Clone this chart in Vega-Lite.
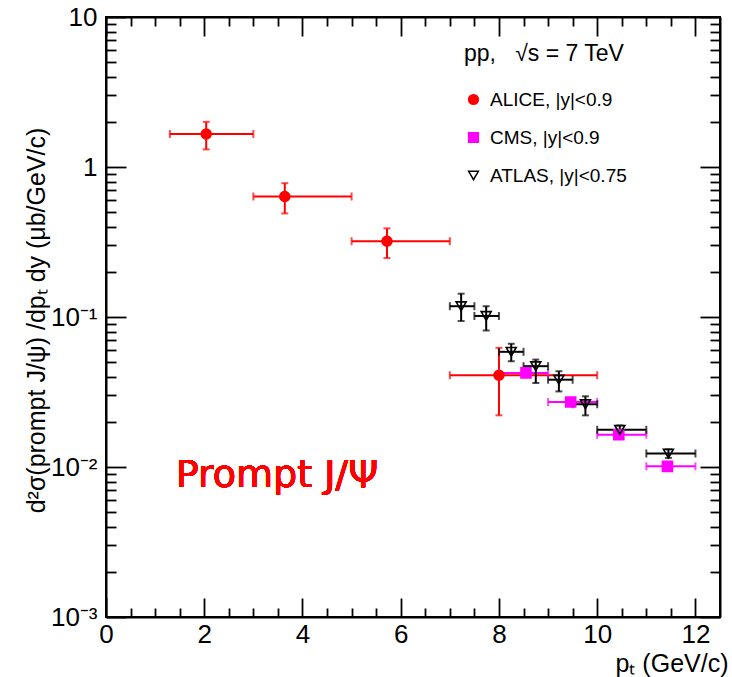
{
  "$schema": "https://vega.github.io/schema/vega-lite/v6.json",
  "width": 614,
  "height": 600,
  "autosize": {"type": "none"},
  "padding": {"left": 106, "top": 17, "right": 12, "bottom": 60},
  "background": "white",
  "config": {
    "view": {"stroke": "black", "strokeWidth": 2},
    "font": "Liberation Sans, Arial, sans-serif",
    "axis": {
      "domainColor": "black", "domainWidth": 2, "tickColor": "black", "tickWidth": 1.8,
      "labelColor": "black", "titleColor": "black", "grid": false,
      "labelFont": "Liberation Sans, Arial, sans-serif",
      "titleFont": "Liberation Sans, Arial, sans-serif",
      "labelFontSize": 26, "titleFontSize": 25, "titleFontWeight": "normal",
      "labelOverlap": false, "labelFlush": false, "labelBound": false
    }
  },
  "data": {
    "values": [
      {"exp": "ALICE", "pt": 2.04, "xlo": 1.3, "xhi": 3.0, "y": 1.66, "ylo": 1.31, "yhi": 2.0},
      {"exp": "ALICE", "pt": 3.64, "xlo": 3.0, "xhi": 5.0, "y": 0.636, "ylo": 0.49, "yhi": 0.78},
      {"exp": "ALICE", "pt": 5.72, "xlo": 5.0, "xhi": 7.0, "y": 0.32, "ylo": 0.247, "yhi": 0.39},
      {"exp": "ALICE", "pt": 8.0, "xlo": 7.0, "xhi": 10.0, "y": 0.0409, "ylo": 0.0221, "yhi": 0.0623},
      {"exp": "CMS", "pt": 8.55, "xlo": 8.0, "xhi": 9.0, "y": 0.0424, "ylo": 0.0405, "yhi": 0.0445},
      {"exp": "CMS", "pt": 9.46, "xlo": 9.0, "xhi": 10.0, "y": 0.0271, "ylo": 0.0258, "yhi": 0.0285},
      {"exp": "CMS", "pt": 10.44, "xlo": 10.0, "xhi": 11.0, "y": 0.0164, "ylo": 0.0156, "yhi": 0.0172},
      {"exp": "CMS", "pt": 11.43, "xlo": 11.0, "xhi": 12.0, "y": 0.0101, "ylo": 0.0096, "yhi": 0.0106},
      {"exp": "ATLAS", "pt": 7.23, "xlo": 7.0, "xhi": 7.5, "y": 0.118, "ylo": 0.094, "yhi": 0.143},
      {"exp": "ATLAS", "pt": 7.74, "xlo": 7.5, "xhi": 8.0, "y": 0.1016, "ylo": 0.0813, "yhi": 0.118},
      {"exp": "ATLAS", "pt": 8.25, "xlo": 8.0, "xhi": 8.5, "y": 0.0586, "ylo": 0.0507, "yhi": 0.0663},
      {"exp": "ATLAS", "pt": 8.75, "xlo": 8.5, "xhi": 9.0, "y": 0.047, "ylo": 0.0363, "yhi": 0.052},
      {"exp": "ATLAS", "pt": 9.22, "xlo": 9.0, "xhi": 9.5, "y": 0.0382, "ylo": 0.0319, "yhi": 0.0435},
      {"exp": "ATLAS", "pt": 9.76, "xlo": 9.5, "xhi": 10.0, "y": 0.0262, "ylo": 0.0221, "yhi": 0.0296},
      {"exp": "ATLAS", "pt": 10.46, "xlo": 10.0, "xhi": 11.0, "y": 0.0177, "ylo": 0.0166, "yhi": 0.0189},
      {"exp": "ATLAS", "pt": 11.45, "xlo": 11.0, "xhi": 12.0, "y": 0.0123, "ylo": 0.0115, "yhi": 0.0131}
    ]
  },
  "resolve": {"axis": {"x": "independent", "y": "independent"}},
  "layer": [
    {
      "mark": {"type": "rule", "strokeWidth": 2},
      "encoding": {
        "x": {"field": "xlo", "type": "quantitative",
          "scale": {"domain": [0, 12.5], "nice": false, "zero": false},
          "axis": {
            "orient": "bottom",
            "values": [0,0.5,1,1.5,2,2.5,3,3.5,4,4.5,5,5.5,6,6.5,7,7.5,8,8.5,9,9.5,10,10.5,11,11.5,12],
            "labelExpr": "datum.value % 2 == 0 ? format(datum.value, 'd') : ''",
            "tickSize": {"condition": {"test": "datum.value % 2 == 0", "value": -19}, "value": -9},
            "labelPadding": 23, "labelFontSize": 26,
            "title": "pₜ (GeV/c)", "titleFontSize": 25, "titleFontWeight": "normal",
            "titleAnchor": "end", "titleAlign": "right", "titleX": 622, "titleY": 54, "titleBaseline": "alphabetic"
          }},
        "x2": {"field": "xhi"},
        "y": {"field": "y", "type": "quantitative",
          "scale": {"type": "log", "domain": [0.001, 10], "nice": false},
          "axis": {
            "orient": "left",
            "values": [0.001,0.002,0.003,0.004,0.005,0.006,0.007,0.008,0.009,0.01,0.02,0.03,0.04,0.05,0.06,0.07,0.08,0.09,0.1,0.2,0.3,0.4,0.5,0.6,0.7,0.8,0.9,1,2,3,4,5,6,7,8,9,10],
            "labelExpr": "datum.value == 10 ? '10' : datum.value == 1 ? '1' : datum.value == 0.1 ? '10⁻¹' : datum.value == 0.01 ? '10⁻²' : datum.value == 0.001 ? '10⁻³' : ''",
            "tickSize": {"condition": {"test": "indexof([0.001,0.01,0.1,1,10], datum.value) >= 0", "value": -20}, "value": -10},
            "labelPadding": 29, "labelFontSize": 26,
            "title": "d²σ(prompt J/ψ) /dpₜ dy (μb/GeV/c)", "titleFontSize": 25, "titleFontWeight": "normal",
            "titleX": -70, "titleY": 303, "titleAngle": -90, "titleAlign": "center", "titleBaseline": "middle"
          }},
        "color": {"field": "exp", "type": "nominal", "legend": null,
          "scale": {"range": ["#ff0000", "#000000", "#ff00ff"]}}
      }
    },
    {
      "mark": {"type": "rule", "strokeWidth": 2},
      "encoding": {
        "x": {"field": "pt", "type": "quantitative",
          "axis": {
            "orient": "top",
            "values": [0,0.5,1,1.5,2,2.5,3,3.5,4,4.5,5,5.5,6,6.5,7,7.5,8,8.5,9,9.5,10,10.5,11,11.5,12],
            "labels": false, "title": null,
            "tickSize": {"condition": {"test": "datum.value % 2 == 0", "value": -19}, "value": -9}
          }},
        "y": {"field": "ylo", "type": "quantitative",
          "axis": {
            "orient": "right",
            "values": [0.001,0.002,0.003,0.004,0.005,0.006,0.007,0.008,0.009,0.01,0.02,0.03,0.04,0.05,0.06,0.07,0.08,0.09,0.1,0.2,0.3,0.4,0.5,0.6,0.7,0.8,0.9,1,2,3,4,5,6,7,8,9,10],
            "labels": false, "title": null,
            "tickSize": {"condition": {"test": "indexof([0.001,0.01,0.1,1,10], datum.value) >= 0", "value": -20}, "value": -10}
          }},
        "y2": {"field": "yhi"},
        "color": {"field": "exp", "type": "nominal", "legend": null}
      }
    },
    {
      "mark": {"type": "tick", "orient": "vertical", "size": 8, "thickness": 2},
      "encoding": {
        "x": {"field": "xlo", "type": "quantitative", "axis": null},
        "y": {"field": "y", "type": "quantitative", "axis": null},
        "color": {"field": "exp", "type": "nominal", "legend": null}
      }
    },
    {
      "mark": {"type": "tick", "orient": "vertical", "size": 8, "thickness": 2},
      "encoding": {
        "x": {"field": "xhi", "type": "quantitative", "axis": null},
        "y": {"field": "y", "type": "quantitative", "axis": null},
        "color": {"field": "exp", "type": "nominal", "legend": null}
      }
    },
    {
      "mark": {"type": "tick", "orient": "horizontal", "size": 7, "thickness": 2},
      "encoding": {
        "x": {"field": "pt", "type": "quantitative", "axis": null},
        "y": {"field": "ylo", "type": "quantitative", "axis": null},
        "color": {"field": "exp", "type": "nominal", "legend": null}
      }
    },
    {
      "mark": {"type": "tick", "orient": "horizontal", "size": 7, "thickness": 2},
      "encoding": {
        "x": {"field": "pt", "type": "quantitative", "axis": null},
        "y": {"field": "yhi", "type": "quantitative", "axis": null},
        "color": {"field": "exp", "type": "nominal", "legend": null}
      }
    },
    {
      "mark": {"type": "point", "size": 100, "strokeWidth": 1.6, "opacity": 1},
      "encoding": {
        "x": {"field": "pt", "type": "quantitative", "axis": null},
        "y": {"field": "y", "type": "quantitative", "axis": null},
        "shape": {"field": "exp", "type": "nominal",
          "scale": {"domain": ["ALICE", "CMS", "ATLAS"], "range": ["circle", "square", "triangle-down"]},
          "legend": {"title": "pp,\u00a0\u00a0 √s = 7 TeV", "orient": "none", "legendX": 358, "legendY": 26,
            "labelExpr": "datum.label == 'ALICE' ? 'ALICE, |y|<0.9' : datum.label == 'CMS' ? 'CMS, |y|<0.9' : 'ATLAS, |y|<0.75'",
            "titleFontSize": 23, "titleFontWeight": "normal", "titleFont": "Liberation Sans, Arial, sans-serif", "titlePadding": 24,
            "labelFontSize": 19, "labelFont": "Liberation Sans, Arial, sans-serif", "labelColor": "black", "titleColor": "black",
            "rowPadding": 18, "symbolSize": 95, "symbolStrokeWidth": 1.5, "labelOffset": 7}},
        "fill": {"field": "exp", "type": "nominal",
          "scale": {"domain": ["ALICE", "CMS", "ATLAS"], "range": ["#ff0000", "#ff00ff", "rgba(0,0,0,0)"]},
          "legend": {"title": "pp,\u00a0\u00a0 √s = 7 TeV", "orient": "none", "legendX": 358, "legendY": 26,
            "labelExpr": "datum.label == 'ALICE' ? 'ALICE, |y|<0.9' : datum.label == 'CMS' ? 'CMS, |y|<0.9' : 'ATLAS, |y|<0.75'",
            "titleFontSize": 23, "titleFontWeight": "normal", "titleFont": "Liberation Sans, Arial, sans-serif", "titlePadding": 24,
            "labelFontSize": 19, "labelFont": "Liberation Sans, Arial, sans-serif", "labelColor": "black", "titleColor": "black",
            "rowPadding": 18, "symbolSize": 95, "symbolStrokeWidth": 1.5, "labelOffset": 7}},
        "stroke": {"field": "exp", "type": "nominal",
          "scale": {"domain": ["ALICE", "CMS", "ATLAS"], "range": ["#ff0000", "#ff00ff", "#000000"]},
          "legend": {"title": "pp,\u00a0\u00a0 √s = 7 TeV", "orient": "none", "legendX": 358, "legendY": 26,
            "labelExpr": "datum.label == 'ALICE' ? 'ALICE, |y|<0.9' : datum.label == 'CMS' ? 'CMS, |y|<0.9' : 'ATLAS, |y|<0.75'",
            "titleFontSize": 23, "titleFontWeight": "normal", "titleFont": "Liberation Sans, Arial, sans-serif", "titlePadding": 24,
            "labelFontSize": 19, "labelFont": "Liberation Sans, Arial, sans-serif", "labelColor": "black", "titleColor": "black",
            "rowPadding": 18, "symbolSize": 95, "symbolStrokeWidth": 1.5, "labelOffset": 7}}
      }
    },
    {
      "mark": {"type": "text", "text": "Prompt J/Ψ", "color": "#ff0000", "font": "DejaVu Sans", "fontSize": 38, "align": "left", "baseline": "alphabetic"},
      "encoding": {
        "x": {"datum": 1.42, "type": "quantitative", "axis": null},
        "y": {"datum": 0.0074, "type": "quantitative", "axis": null}
      }
    }
  ]
}
